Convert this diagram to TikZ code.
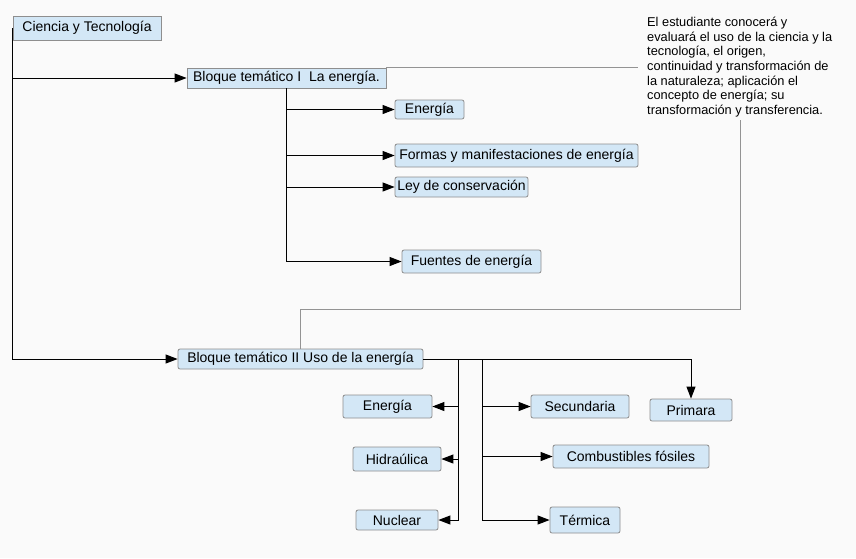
\documentclass[tikz,border=0pt]{standalone}
\usepackage{fontspec}
\setmainfont{Liberation Sans}
\usetikzlibrary{arrows.meta}
\definecolor{cajazul}{HTML}{D3E7F6}
\definecolor{bordegris}{HTML}{8E8E8E}
\definecolor{fondo}{HTML}{FAFAFA}

\begin{document}
\begin{tikzpicture}[x=1pt,y=-1pt,font=\fontsize{14}{16}\selectfont,
	caja/.style 2 args={draw=bordegris,fill=cajazul,rounded corners=2pt,inner sep=0pt,
		line width=0.8pt,minimum width=#1,minimum height=#2},
	flecha/.style={-{Triangle[length=12pt,width=9pt]},line width=1pt},
	nota/.style={draw=gray!85,line width=0.8pt}]
	\fill[fondo] (0,0) rectangle (856,558);
	\node[caja={148pt}{24pt},sharp corners] (cyt) at (87,28) {Ciencia y Tecnología};
	\node[caja={199pt}{20pt},sharp corners] (bloq1) at (286.5,78) {Bloque temático I\ \ La energía.};
	\node[caja={69pt}{19pt}] (ene1) at (429.5,109.5) {Energía};
	\node[caja={243pt}{23pt}] (formas) at (516.5,155.5) {Formas y manifestaciones de energía};
	\node[caja={133pt}{20pt}] (ley) at (461.5,187) {Ley de conservación};
	\node[caja={139pt}{23pt}] (fuentes) at (471.5,261.5) {Fuentes de energía};
	\node[anchor=north west,align=left,inner xsep=9pt,inner ysep=3pt,
		font=\fontsize{12.8}{14.6}\selectfont] (nota) at (638,14)
		{El estudiante conocerá y\\evaluará el uso de la ciencia y la\\tecnología, el origen,\\
		continuidad y transformación de\\la naturaleza; aplicación el\\concepto de energía; su\\
		transformación y transferencia.};
	\node[caja={245pt}{20pt}] (bloq2) at (300.5,359) {Bloque temático II Uso de la energía};
	\node[caja={89pt}{23pt}] (ene2) at (387.5,406.5) {Energía};
	\node[caja={88pt}{24pt}] (hidra) at (397,459) {Hidraúlica};
	\node[caja={82pt}{20pt}] (nuclear) at (397,520) {Nuclear};
	\node[caja={98pt}{23pt}] (secund) at (580,406.5) {Secundaria};
	\node[caja={82pt}{22pt}] (primara) at (691,410) {Primara};
	\node[caja={156pt}{23pt}] (combust) at (631,456.5) {Combustibles fósiles};
	\node[caja={70pt}{26pt}] (termica) at (585,520) {Térmica};
	\coordinate (izq) at (458,359);
	\coordinate (der) at (482,359);
	\coordinate (codo) at (300.5,309);

	\draw[flecha] (cyt.west) |- (bloq1.west);
	\draw[flecha] (cyt.west) |- (bloq2.west);
	\draw[flecha] (bloq1.south) |- (ene1.west);
	\draw[flecha] (bloq1.south) |- (formas.west);
	\draw[flecha] (bloq1.south) |- (ley.west);
	\draw[flecha] (bloq1.south) |- (fuentes.west);
	\draw[flecha] (bloq2.east) -| (primara.north);
	\draw[flecha] (izq) |- (ene2.east);
	\draw[flecha] (izq) |- (hidra.east);
	\draw[flecha] (izq) |- (nuclear.east);
	\draw[flecha] (der) |- (secund.west);
	\draw[flecha] (der) |- (combust.west);
	\draw[flecha] (der) |- (termica.west);
	\draw[nota] (bloq1.north east) -- (bloq1.north east -| nota.west);
	\draw[nota] ([xshift=1pt]nota.south) |- (codo) -- (bloq2.north);
\end{tikzpicture}
\end{document}
